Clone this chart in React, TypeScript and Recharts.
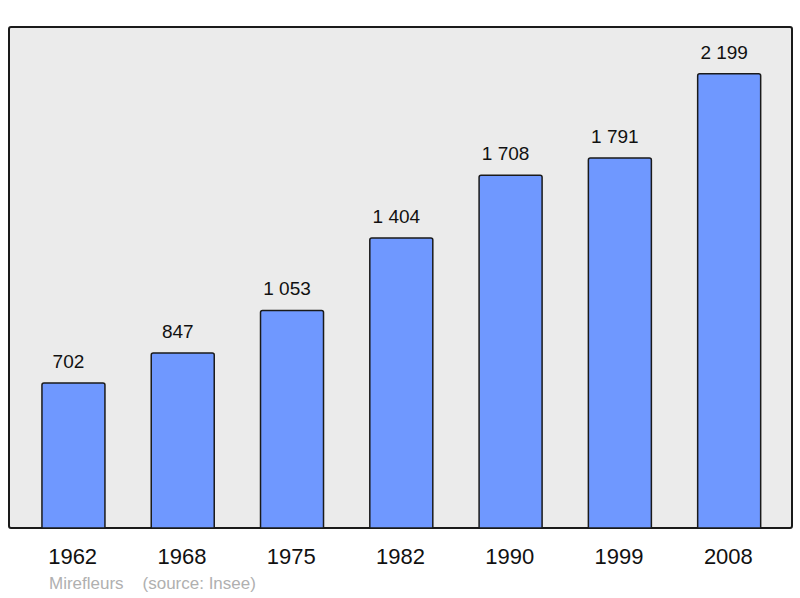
import { BarChart, Bar, XAxis, YAxis, LabelList } from "recharts";

const years = ["1962", "1968", "1975", "1982", "1990", "1999", "2008"];
const population = [702, 847, 1053, 1404, 1708, 1791, 2199];
const yDomain = [0, 2425];

const data = years.map((year, i) => ({ year, population: population[i] }));

// French-style thousands separator: 1053 -> "1 053"
const fmt = (v: number | string) =>
  String(v).replace(/\B(?=(\d{3})+(?!\d))/g, " ");

export default function App() {
  return (
    <div
      style={{
        position: "absolute",
        left: 0,
        top: 0,
        width: 800,
        height: 598,
        background: "#fff",
        fontFamily: "'Liberation Sans', Arial, sans-serif",
      }}
    >
      {/* plot frame */}
      <div
        style={{
          position: "absolute",
          left: 8,
          top: 26,
          width: 781,
          height: 499,
          background: "#ebebeb",
          border: "2px solid #1a1a1a",
          borderRadius: 3,
        }}
      />
      <div style={{ position: "absolute", left: 0, top: 0 }}>
        <BarChart
          width={800}
          height={598}
          data={data}
          margin={{ top: 27, right: 8, bottom: 30, left: 9 }}
          barCategoryGap="21%"
        >
          <XAxis
            dataKey="year"
            height={40}
            axisLine={false}
            tickLine={false}
            tickSize={0}
            tickMargin={20}
            padding={{ left: 10, right: 8 }}
            tick={{ fontSize: 22, fill: "#111", dx: -1, fontFamily: "'Liberation Sans', Arial, sans-serif" }}
          />
          <YAxis hide domain={yDomain} width={0} />
          <Bar
            dataKey="population"
            fill="#6f98ff"
            stroke="#1a1a1a"
            strokeWidth={1.5}
            radius={[2, 2, 0, 0]}
            isAnimationActive={false}
          >
            <LabelList
              dataKey="population"
              position="top"
              offset={15}
              dx={-5}
              formatter={(v: any) => fmt(v)}
              style={{ fontSize: 19, fill: "#111", fontFamily: "'Liberation Sans', Arial, sans-serif" }}
            />
          </Bar>
        </BarChart>
      </div>
      <div
        style={{
          position: "absolute",
          left: 49,
          top: 574,
          fontSize: 17,
          color: "#b0b0b0",
          whiteSpace: "pre",
          lineHeight: "20px",
        }}
      >
        {"Mirefleurs    (source: Insee)"}
      </div>
    </div>
  );
}
